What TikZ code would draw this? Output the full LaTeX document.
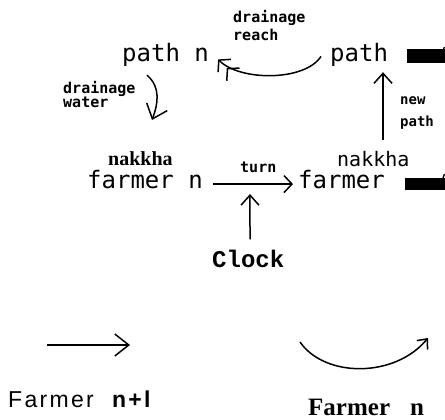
\documentclass[tikz,border=0pt]{standalone}
\usepackage{fontspec}
\usetikzlibrary{arrows.meta,calc}
\newfontfamily\monof{DejaVu Sans Mono}
\newfontfamily\courf{Liberation Mono}
\newfontfamily\serff{Liberation Serif}
\newfontfamily\sansf[LetterSpace=10]{Liberation Sans}
\begin{document}
\begin{tikzpicture}[x=1pt,y=-1pt,
  lbl/.style={inner sep=0pt,anchor=base west},
  big/.style={lbl,font=\monof\fontsize{24}{28}\selectfont},
  small/.style={lbl,font=\monof\bfseries\fontsize{15}{18}\selectfont},
  tiny/.style={lbl,font=\monof\bfseries\fontsize{14}{17}\selectfont},
  ar/.style={line width=1.5pt,-{Straight Barb[length=10pt,width=18pt]}},
  arbig/.style={line width=1.5pt,-{Straight Barb[length=13pt,width=22pt]}},
  ardbl/.style={line width=1.5pt,-{Straight Barb[length=8pt,width=18pt,sep=2.5pt]Straight Barb[length=8pt,width=18pt]}},
  bar/.style={fill=black,inner sep=0pt,anchor=north west}]
\useasboundingbox (0,0) rectangle (445,420);
% texts
\node[big] (pathn) at (122,62) {path n};
\node[big] (path) at (330,62) {path};
\node[small] (dr1) at (233,23) {drainage};
\node[small] (dr2) at (233,41) {reach};
\node[small] (dw1) at (63,94) {drainage};
\node[small] (dw2) at (63,108) {water};
\node[lbl,font=\serff\bfseries\fontsize{20}{24}\selectfont] (nakL) at (108,165) {nakkha};
\node[big] (farmL) at (87,188) {farmer n};
\node[small] (turn) at (240,172) {turn};
\node[big] (farmR) at (298,188) {farmer};
\node[lbl,font=\monof\fontsize{20}{24}\selectfont] (nakR) at (337,167) {nakkha};
\node[tiny] (np1) at (400,105) {new};
\node[tiny] (np2) at (400,127) {path};
\node[lbl,font=\courf\bfseries\fontsize{24}{28}\selectfont] (clock) at (212,267) {Clock};
\node[lbl,font=\sansf\fontsize{23}{28}\selectfont] (fn1) at (8,407) {Farmer\hspace{16pt}\textbf{n+l}};
\node[lbl,font=\serff\bfseries\fontsize{25}{30}\selectfont] (fn2) at (308,415) {Farmer\hspace{20pt}n};
% black bars
\node[bar,minimum width=38pt,minimum height=14pt] (bar1) at (407,49) {};
\node[bar,minimum width=40pt,minimum height=12pt] (bar2) at (405,178) {};
\draw[line width=1.3pt] ($(bar1.north east)+(-4,6)$) -- ($(bar1.north east)+(-1,-2)$);
\draw[line width=1.3pt] ($(bar2.north east)+(-4,5)$) -- ($(bar2.north east)+(-1,-4)$);
% free ends
\coordinate (dwtip) at (152,120);
\coordinate (b1) at (47,345);
\coordinate (b2) at (130,345);
\coordinate (c1) at (300,342);
\coordinate (c2) at (428,338);
% connectors
\draw[ardbl] ($(path.west)+(-9,1)$) .. controls +(-16,25) and +(22,22) .. ($(pathn.east)+(9,4)$);
\draw[arbig] ($(pathn.south west)+(25,8)$) .. controls +(14,12) and +(6,-16) .. (dwtip);
\draw[line width=1.5pt,-{Straight Barb[length=8pt,width=17pt]}] ($(farmL.east)+(10,5)$) -- ($(farmR.west)+(-5,5)$);
\draw[ar] ($(clock.north west)+(38,-10)$) -- ($(farmL.east)+(47,15)$);
\draw[ar] ($(nakR.north west)+(46,-12)$) -- ($(path.south west)+(53,5)$);
\draw[line width=1.5pt,-{Straight Barb[length=14pt,width=22pt]}] (b1) -- (b2);
\draw[line width=1.5pt,-{Straight Barb[length=8pt,width=14pt]}] (c1) .. controls (325,378) and (395,378) .. (c2);
\end{tikzpicture}
\end{document}
